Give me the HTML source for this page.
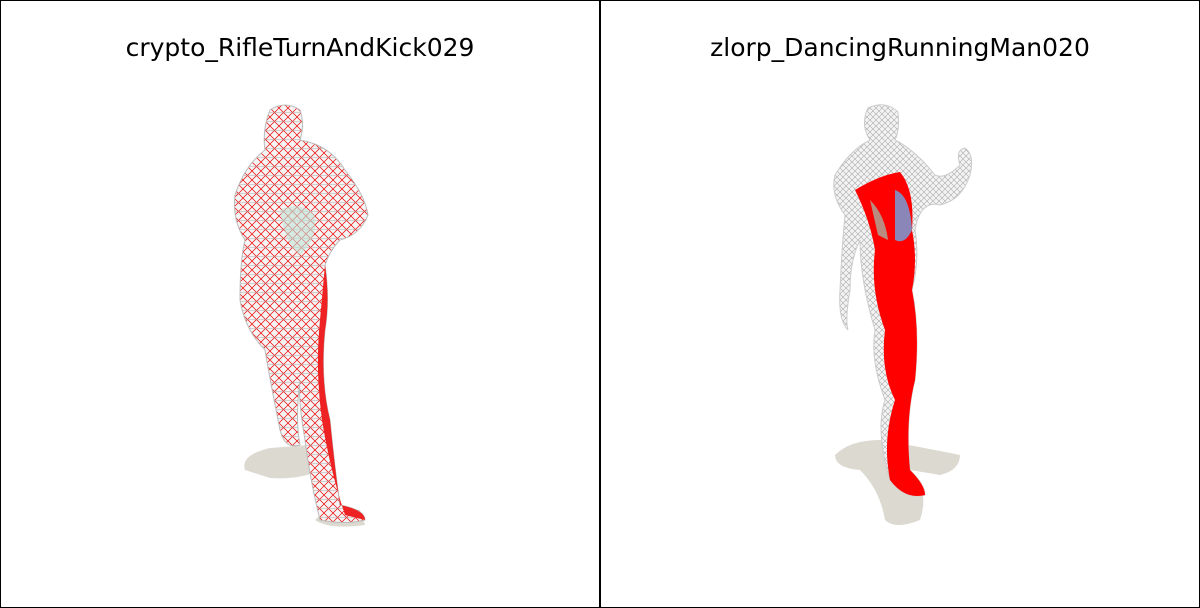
<!DOCTYPE html>
<html><head><meta charset="utf-8"><style>
html,body{margin:0;padding:0;background:#fff}
.wrap{position:relative;width:1200px;height:608px;overflow:hidden}
svg{position:absolute;left:0;top:0}
text{font-family:"DejaVu Sans","Liberation Sans",sans-serif;font-size:25px;fill:#000}
</style></head><body>
<div class="wrap">
<svg width="1200" height="608" viewBox="0 0 1200 608">
<defs>
<pattern id="mesh" width="9" height="9" patternUnits="userSpaceOnUse">
<rect width="9" height="9" fill="#f4f4f4"/>
<path d="M0 0L9 9M9 0L0 9" stroke="#e00" stroke-width="0.7"/>
<path d="M0 4.5H9" stroke="#aaa" stroke-width="0.5"/>
</pattern>
<pattern id="mesh2" width="6" height="6" patternUnits="userSpaceOnUse">
<rect width="6" height="6" fill="#f3f3f3"/>
<path d="M0 0L6 6M6 0L0 6" stroke="#aaa" stroke-width="0.6"/>
</pattern>
</defs>
<rect x="0.5" y="0.5" width="599" height="607" fill="#fff" stroke="#000"/>
<rect x="600.5" y="0.5" width="599" height="607" fill="#fff" stroke="#000"/>
<text x="300" y="56" text-anchor="middle">crypto_RifleTurnAndKick029</text>
<text x="900" y="56" text-anchor="middle">zlorp_DancingRunningMan020</text>

<g>
<path d="M245 470 Q240 455 270 448 L310 445 Q335 450 320 470 Q300 480 270 478 Z" fill="#dcd9d0"/>
<path d="M315 520 Q330 530 365 525 L360 510 L330 505 Z" fill="#dcd9d0"/>
<path d="M270 110 Q285 100 300 110 Q305 125 300 140 Q330 145 345 170 Q365 195 368 215 Q360 235 340 240 Q330 250 325 265 Q330 300 325 330 Q320 380 330 420 Q335 470 340 505 Q365 510 365 520 Q345 525 320 520 Q310 480 305 440 Q298 400 300 380 Q295 420 300 445 Q285 450 280 430 Q270 380 265 350 Q245 330 240 300 Q240 260 245 240 Q232 220 235 195 Q245 165 265 150 Q262 130 270 110 Z" fill="url(#mesh)" stroke="#bbb" stroke-width="1"/>
<path d="M325 265 Q330 300 325 330 Q320 380 330 420 Q335 470 340 505 Q365 510 365 520 L345 515 Q330 470 322 420 Q315 370 320 320 Z" fill="#e22"/>
<path d="M280 210 Q300 200 315 215 Q318 240 300 255 Q285 245 280 210 Z" fill="#bfe3d6" opacity="0.6"/>
</g>

<g>
<path d="M835 455 Q850 440 880 440 Q910 445 960 455 Q960 470 940 475 L910 470 Q930 490 920 520 Q895 530 885 520 Q880 490 860 470 Q835 468 835 455 Z" fill="#dcd9d0"/>
<path d="M868 108 Q885 100 898 112 Q900 130 895 140 Q915 150 935 175 Q945 180 960 165 Q955 150 965 148 Q975 155 970 175 Q962 200 940 205 Q920 200 915 230 Q920 260 912 290 Q920 330 915 380 Q905 420 910 470 Q925 485 925 495 Q905 500 890 480 Q875 430 885 400 Q870 360 875 330 Q860 280 860 240 Q850 260 850 290 Q845 320 848 330 Q838 320 840 290 Q842 245 845 215 Q830 195 835 175 Q850 150 870 140 Q860 125 868 108 Z" fill="url(#mesh2)" stroke="#ccc" stroke-width="1"/>
<path d="M855 190 Q880 175 900 172 Q915 190 912 230 Q918 260 912 290 Q920 330 915 380 Q905 420 910 470 Q925 485 925 495 Q905 500 890 480 Q882 440 895 400 Q880 370 885 330 Q870 290 875 250 Q870 220 855 190 Z" fill="#f00"/>
<path d="M895 190 Q910 195 912 230 Q905 245 895 240 Z" fill="#8a86b8"/>
<path d="M870 200 Q885 215 888 240 L878 235 Z" fill="#9cc7b5" opacity="0.7"/>
</g>
</svg>
</div>
</body></html>
